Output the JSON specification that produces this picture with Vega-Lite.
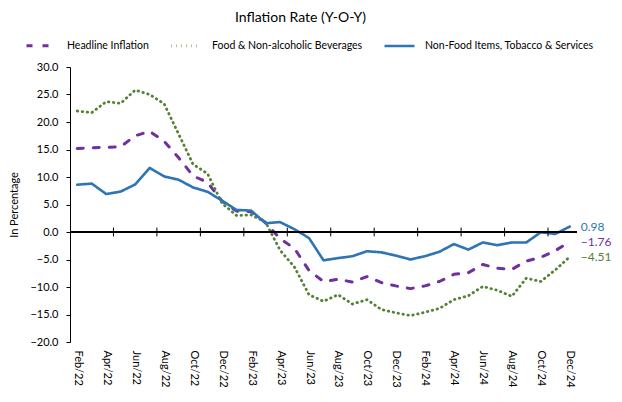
{
  "$schema": "https://vega.github.io/schema/vega-lite/v6.json",
  "width": 507,
  "height": 275,
  "autosize": {"type": "none"},
  "padding": {"left": 70, "top": 67, "right": 45, "bottom": 60},
  "background": "white",
  "config": {"view": {"stroke": null}, "font": "Lato"},
  "title": {"text": "Inflation Rate (Y-O-Y)", "fontSize": 14, "fontWeight": "normal", "font": "Lato", "color": "#000000", "anchor": "middle", "frame": "group", "offset": 4, "dx": -23},
  "datasets": {
    "series": [
      {"i": 0, "month": "Feb/22", "Headline Inflation": 15.2, "Food & Non-alcoholic Beverages": 22.0, "Non-Food Items, Tobacco & Services": 8.6},
      {"i": 1, "month": "Mar/22", "Headline Inflation": 15.3, "Food & Non-alcoholic Beverages": 21.7, "Non-Food Items, Tobacco & Services": 8.8},
      {"i": 2, "month": "Apr/22", "Headline Inflation": 15.4, "Food & Non-alcoholic Beverages": 23.7, "Non-Food Items, Tobacco & Services": 6.9},
      {"i": 3, "month": "May/22", "Headline Inflation": 15.5, "Food & Non-alcoholic Beverages": 23.4, "Non-Food Items, Tobacco & Services": 7.35},
      {"i": 4, "month": "Jun/22", "Headline Inflation": 17.5, "Food & Non-alcoholic Beverages": 25.8, "Non-Food Items, Tobacco & Services": 8.65},
      {"i": 5, "month": "Jul/22", "Headline Inflation": 18.3, "Food & Non-alcoholic Beverages": 25.0, "Non-Food Items, Tobacco & Services": 11.65},
      {"i": 6, "month": "Aug/22", "Headline Inflation": 16.5, "Food & Non-alcoholic Beverages": 23.3, "Non-Food Items, Tobacco & Services": 10.1},
      {"i": 7, "month": "Sep/22", "Headline Inflation": 13.5, "Food & Non-alcoholic Beverages": 17.8, "Non-Food Items, Tobacco & Services": 9.5},
      {"i": 8, "month": "Oct/22", "Headline Inflation": 10.2, "Food & Non-alcoholic Beverages": 12.3, "Non-Food Items, Tobacco & Services": 8.1},
      {"i": 9, "month": "Nov/22", "Headline Inflation": 9.0, "Food & Non-alcoholic Beverages": 10.6, "Non-Food Items, Tobacco & Services": 7.3},
      {"i": 10, "month": "Dec/22", "Headline Inflation": 5.6, "Food & Non-alcoholic Beverages": 5.2, "Non-Food Items, Tobacco & Services": 5.7},
      {"i": 11, "month": "Jan/23", "Headline Inflation": 3.8, "Food & Non-alcoholic Beverages": 3.0, "Non-Food Items, Tobacco & Services": 4.0},
      {"i": 12, "month": "Feb/23", "Headline Inflation": 3.7, "Food & Non-alcoholic Beverages": 3.1, "Non-Food Items, Tobacco & Services": 3.9},
      {"i": 13, "month": "Mar/23", "Headline Inflation": 1.7, "Food & Non-alcoholic Beverages": 1.8, "Non-Food Items, Tobacco & Services": 1.6},
      {"i": 14, "month": "Apr/23", "Headline Inflation": -1.2, "Food & Non-alcoholic Beverages": -3.3, "Non-Food Items, Tobacco & Services": 1.8},
      {"i": 15, "month": "May/23", "Headline Inflation": -3.0, "Food & Non-alcoholic Beverages": -6.4, "Non-Food Items, Tobacco & Services": 0.5},
      {"i": 16, "month": "Jun/23", "Headline Inflation": -7.0, "Food & Non-alcoholic Beverages": -11.4, "Non-Food Items, Tobacco & Services": -1.1},
      {"i": 17, "month": "Jul/23", "Headline Inflation": -9.0, "Food & Non-alcoholic Beverages": -12.6, "Non-Food Items, Tobacco & Services": -5.15},
      {"i": 18, "month": "Aug/23", "Headline Inflation": -8.6, "Food & Non-alcoholic Beverages": -11.4, "Non-Food Items, Tobacco & Services": -4.75},
      {"i": 19, "month": "Sep/23", "Headline Inflation": -9.1, "Food & Non-alcoholic Beverages": -13.1, "Non-Food Items, Tobacco & Services": -4.4},
      {"i": 20, "month": "Oct/23", "Headline Inflation": -8.1, "Food & Non-alcoholic Beverages": -12.3, "Non-Food Items, Tobacco & Services": -3.5},
      {"i": 21, "month": "Nov/23", "Headline Inflation": -9.2, "Food & Non-alcoholic Beverages": -14.1, "Non-Food Items, Tobacco & Services": -3.7},
      {"i": 22, "month": "Dec/23", "Headline Inflation": -9.8, "Food & Non-alcoholic Beverages": -14.7, "Non-Food Items, Tobacco & Services": -4.3},
      {"i": 23, "month": "Jan/24", "Headline Inflation": -10.3, "Food & Non-alcoholic Beverages": -15.2, "Non-Food Items, Tobacco & Services": -5.0},
      {"i": 24, "month": "Feb/24", "Headline Inflation": -9.8, "Food & Non-alcoholic Beverages": -14.6, "Non-Food Items, Tobacco & Services": -4.4},
      {"i": 25, "month": "Mar/24", "Headline Inflation": -9.0, "Food & Non-alcoholic Beverages": -13.9, "Non-Food Items, Tobacco & Services": -3.6},
      {"i": 26, "month": "Apr/24", "Headline Inflation": -7.7, "Food & Non-alcoholic Beverages": -12.3, "Non-Food Items, Tobacco & Services": -2.2},
      {"i": 27, "month": "May/24", "Headline Inflation": -7.4, "Food & Non-alcoholic Beverages": -11.6, "Non-Food Items, Tobacco & Services": -3.2},
      {"i": 28, "month": "Jun/24", "Headline Inflation": -5.9, "Food & Non-alcoholic Beverages": -9.9, "Non-Food Items, Tobacco & Services": -1.9},
      {"i": 29, "month": "Jul/24", "Headline Inflation": -6.6, "Food & Non-alcoholic Beverages": -10.6, "Non-Food Items, Tobacco & Services": -2.4},
      {"i": 30, "month": "Aug/24", "Headline Inflation": -6.8, "Food & Non-alcoholic Beverages": -11.7, "Non-Food Items, Tobacco & Services": -1.9},
      {"i": 31, "month": "Sep/24", "Headline Inflation": -5.3, "Food & Non-alcoholic Beverages": -8.4, "Non-Food Items, Tobacco & Services": -1.9},
      {"i": 32, "month": "Oct/24", "Headline Inflation": -4.6, "Food & Non-alcoholic Beverages": -9.0, "Non-Food Items, Tobacco & Services": -0.05},
      {"i": 33, "month": "Nov/24", "Headline Inflation": -3.4, "Food & Non-alcoholic Beverages": -6.9, "Non-Food Items, Tobacco & Services": -0.35},
      {"i": 34, "month": "Dec/24", "Headline Inflation": -1.76, "Food & Non-alcoholic Beverages": -4.51, "Non-Food Items, Tobacco & Services": 0.98}
    ],
    "bounds": [{"b": 2.5}, {"b": 5.5}, {"b": 8.5}, {"b": 11.5}, {"b": 14.5}, {"b": 17.5}, {"b": 20.5}, {"b": 23.5}, {"b": 26.5}, {"b": 29.5}, {"b": 32.5}]
  },
  "layer": [
    {
      "data": {"name": "series"},
      "transform": [{"fold": ["Headline Inflation", "Food & Non-alcoholic Beverages", "Non-Food Items, Tobacco & Services"], "as": ["series", "value"]}],
      "mark": {"type": "line", "strokeCap": "round", "strokeJoin": "round"},
      "encoding": {
        "x": {
          "field": "i", "type": "quantitative",
          "scale": {"domain": [-0.5, 34.5], "nice": false, "zero": false},
          "axis": {"title": null, "values": [0, 2, 4, 6, 8, 10, 12, 14, 16, 18, 20, 22, 24, 26, 28, 30, 32, 34], "labelExpr": "['Jan','Feb','Mar','Apr','May','Jun','Jul','Aug','Sep','Oct','Nov','Dec'][(datum.value+1)%12] + '/' + (22 + floor((datum.value+1)/12))", "labelAngle": 90, "labelAlign": "left", "labelBaseline": "middle", "ticks": false, "domain": false, "grid": false, "labelPadding": 8, "labelOverlap": false, "labelFont": "Lato", "labelFontSize": 11, "labelColor": "#000000"}
        },
        "y": {
          "field": "value", "type": "quantitative",
          "scale": {"domain": [-20, 30], "nice": false},
          "axis": {"title": "In Percentage", "values": [-20, -15, -10, -5, 0, 5, 10, 15, 20, 25, 30], "format": ".1f", "grid": false, "labelOverlap": false, "domainColor": "#000000", "tickColor": "#000000", "tickSize": 4, "labelPadding": 8, "labelFont": "Lato", "labelFontSize": 11, "labelColor": "#000000", "titleFont": "Lato", "titleFontSize": 11, "titleFontWeight": "normal", "titleColor": "#000000", "titlePadding": 10}
        },
        "color": {
          "field": "series", "type": "nominal",
          "scale": {"domain": ["Headline Inflation", "Food & Non-alcoholic Beverages", "Non-Food Items, Tobacco & Services"], "range": ["#7030A0", "#548235", "#2E75B6"]},
          "legend": {"title": null, "orient": "none", "legendX": -45, "legendY": -38, "direction": "horizontal", "symbolType": "stroke", "symbolSize": 900, "symbolStrokeWidth": 3, "labelFont": "Lato", "labelFontSize": 10.5, "labelColor": "#000000", "labelLimit": 300, "columnPadding": 16, "labelOffset": 9}
        },
        "strokeDash": {
          "field": "series", "type": "nominal",
          "scale": {"domain": ["Headline Inflation", "Food & Non-alcoholic Beverages", "Non-Food Items, Tobacco & Services"], "range": [[6, 10], [0.5, 4.5], [1, 0]]},
          "legend": {"title": null, "orient": "none", "legendX": -45, "legendY": -38, "direction": "horizontal", "symbolType": "stroke", "symbolSize": 900, "symbolStrokeWidth": 3, "labelFont": "Lato", "labelFontSize": 10.5, "labelColor": "#000000", "labelLimit": 300, "columnPadding": 16, "labelOffset": 9}
        },
        "strokeWidth": {
          "field": "series", "type": "nominal",
          "scale": {"domain": ["Headline Inflation", "Food & Non-alcoholic Beverages", "Non-Food Items, Tobacco & Services"], "range": [3, 2.6, 2]},
          "legend": null
        }
      }
    },
    {
      "data": {"name": "series"},
      "mark": {"type": "rule", "color": "#000000", "strokeWidth": 1},
      "encoding": {
        "y": {"datum": 0, "type": "quantitative",
          "axis": {"title": "In Percentage", "values": [-20, -15, -10, -5, 0, 5, 10, 15, 20, 25, 30], "format": ".1f", "grid": false, "labelOverlap": false, "domainColor": "#000000", "tickColor": "#000000", "tickSize": 4, "labelPadding": 8, "labelFont": "Lato", "labelFontSize": 11, "labelColor": "#000000", "titleFont": "Lato", "titleFontSize": 11, "titleFontWeight": "normal", "titleColor": "#000000", "titlePadding": 10}}
      }
    },
    {
      "data": {"name": "bounds"},
      "mark": {"type": "rule", "color": "#000000", "strokeWidth": 1},
      "encoding": {
        "x": {"field": "b", "type": "quantitative",
          "axis": {"title": null, "values": [0, 2, 4, 6, 8, 10, 12, 14, 16, 18, 20, 22, 24, 26, 28, 30, 32, 34], "labelExpr": "['Jan','Feb','Mar','Apr','May','Jun','Jul','Aug','Sep','Oct','Nov','Dec'][(datum.value+1)%12] + '/' + (22 + floor((datum.value+1)/12))", "labelAngle": 90, "labelAlign": "left", "labelBaseline": "middle", "ticks": false, "domain": false, "grid": false, "labelPadding": 8, "labelOverlap": false, "labelFont": "Lato", "labelFontSize": 11, "labelColor": "#000000"}},
        "y": {"datum": -0.8, "type": "quantitative",
          "axis": {"title": "In Percentage", "values": [-20, -15, -10, -5, 0, 5, 10, 15, 20, 25, 30], "format": ".1f", "grid": false, "labelOverlap": false, "domainColor": "#000000", "tickColor": "#000000", "tickSize": 4, "labelPadding": 8, "labelFont": "Lato", "labelFontSize": 11, "labelColor": "#000000", "titleFont": "Lato", "titleFontSize": 11, "titleFontWeight": "normal", "titleColor": "#000000", "titlePadding": 10}},
        "y2": {"datum": 0.8}
      }
    },
    {
      "data": {"name": "series"},
      "transform": [
        {"fold": ["Headline Inflation", "Food & Non-alcoholic Beverages", "Non-Food Items, Tobacco & Services"], "as": ["series", "value"]},
        {"filter": "datum.i == 34"}
      ],
      "mark": {"type": "text", "align": "left", "baseline": "middle", "dx": 11, "fontSize": 12, "font": "Lato"},
      "encoding": {
        "x": {"field": "i", "type": "quantitative",
          "axis": {"title": null, "values": [0, 2, 4, 6, 8, 10, 12, 14, 16, 18, 20, 22, 24, 26, 28, 30, 32, 34], "labelExpr": "['Jan','Feb','Mar','Apr','May','Jun','Jul','Aug','Sep','Oct','Nov','Dec'][(datum.value+1)%12] + '/' + (22 + floor((datum.value+1)/12))", "labelAngle": 90, "labelAlign": "left", "labelBaseline": "middle", "ticks": false, "domain": false, "grid": false, "labelPadding": 8, "labelOverlap": false, "labelFont": "Lato", "labelFontSize": 11, "labelColor": "#000000"}},
        "y": {"field": "value", "type": "quantitative",
          "axis": {"title": "In Percentage", "values": [-20, -15, -10, -5, 0, 5, 10, 15, 20, 25, 30], "format": ".1f", "grid": false, "labelOverlap": false, "domainColor": "#000000", "tickColor": "#000000", "tickSize": 4, "labelPadding": 8, "labelFont": "Lato", "labelFontSize": 11, "labelColor": "#000000", "titleFont": "Lato", "titleFontSize": 11, "titleFontWeight": "normal", "titleColor": "#000000", "titlePadding": 10}},
        "text": {"field": "value", "type": "quantitative", "format": ".2f"},
        "color": {"field": "series", "type": "nominal"}
      }
    }
  ]
}
